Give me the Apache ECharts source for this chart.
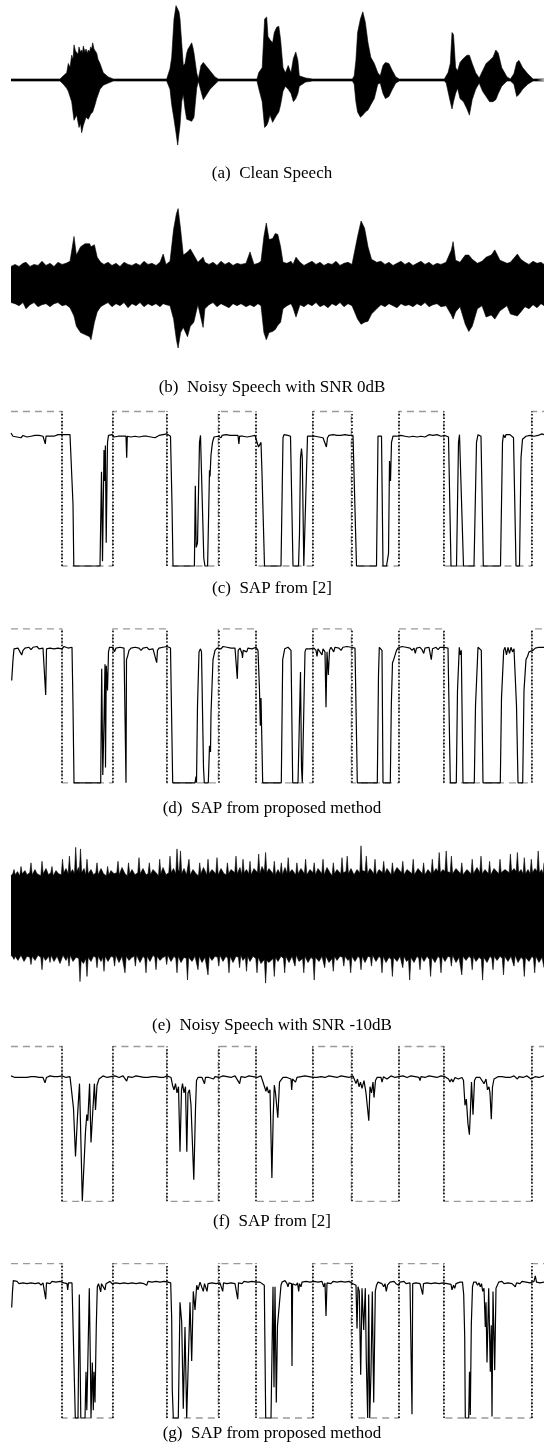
<!DOCTYPE html>
<html><head><meta charset="utf-8">
<script src="https://cdn.jsdelivr.net/npm/echarts@6/dist/echarts.min.js"></script>
<style>html,body{margin:0;padding:0;background:#fff}#c{width:544px;height:1448px}</style>
</head><body><div id="c"></div>
<script>
// ---------- Captions ----------
const captions = [
  "(a)  Clean Speech",
  "(b)  Noisy Speech with SNR 0dB",
  "(c)  SAP from [2]",
  "(d)  SAP from proposed method",
  "(e)  Noisy Speech with SNR -10dB",
  "(f)  SAP from [2]",
  "(g)  SAP from proposed method"
];

// ---------- Waveform envelopes: [time (frame), amplitude] ----------
const cleanTop = [[11,1],[60,1],[63.3,4],[66.7,7],[68.3,16],[70,12],[71.7,24],[73,20],[74,34],[75.5,28],[76.7,29],[78,25],[79,32],[80.5,27],[81.7,29],[82.5,26],[83.3,33],[85,27],[86,30],[87.3,26],[88.3,29],[89.5,27],[90.7,32],[91.7,30],[92.7,36],[94,30],[95,29],[96.7,26],[98,20],[100,16],[103.3,7],[108.3,3],[113.3,1],[161,1],[161.7,2],[162.5,1],[166.7,1],[170,11],[171.7,22],[174,59],[176,72],[177.7,73],[179,66],[180,59],[181.7,36],[183.3,14],[185,16],[186.7,26],[188,30],[189.3,32],[191.7,36],[193,31],[194,26],[196.7,7],[198.3,1],[201,14],[203.3,17],[205,15],[206.7,14],[210,9],[215,3],[218.3,1],[257,1],[258.7,7],[262.2,12],[264.6,59],[266.7,61],[268,42],[270,39],[272.6,36],[274.3,46],[276.7,51],[278.8,52],[280.6,39],[283,12],[285.4,7],[288.2,14],[291,7],[293.4,21],[295.8,27],[297.9,19],[299.3,4],[305.6,2],[312.5,1],[352.4,1],[354.2,4],[355.9,19],[357.6,46],[360.4,59],[362.8,66],[365.3,56],[368,36],[370.8,22],[374.3,16],[377.8,7],[380.2,4],[383,14],[385.4,17],[388.9,16],[392.4,9],[395.8,3],[399.3,1],[444.4,1],[446.2,4],[448,7],[450.3,16],[452,46],[453.5,44],[455.6,12],[457.6,9],[460,17],[463.5,21],[467,24],[469.4,24],[472.2,16],[475.7,7],[479.2,2],[482.6,9],[486.1,16],[489.6,19],[493,22],[495.8,29],[498.3,26],[501.7,12],[507,3],[510.4,1],[513.9,6],[516.7,17],[519,19],[522.6,12],[527.8,6],[533,1],[544,1]];
const cleanBot = [[11,-1],[60,-1],[63.3,-4],[66.7,-8],[68.3,-11],[71.7,-21],[74,-39],[76.7,-34],[79,-46],[80.5,-42],[81.7,-51],[83.3,-44],[86,-36],[88.3,-38],[90.7,-33],[92.7,-31],[95,-24],[96.7,-18],[100,-9],[103.3,-5],[108.3,-3],[113.3,-1],[166.7,-1],[170,-9],[171.7,-24],[174,-38],[176,-51],[177.7,-63],[179,-52],[180,-44],[181.7,-21],[183.3,-14],[185,-28],[186.7,-38],[189.3,-39],[191.7,-40],[194,-36],[196.7,-8],[198.3,-1],[201,-11],[203.3,-19],[206.7,-14],[210,-9],[215,-4],[218.3,-1],[257,-1],[258.7,-8],[262.2,-21],[264.6,-46],[266.7,-44],[268,-41],[270,-34],[272.6,-41],[274.3,-38],[276.7,-34],[278.8,-31],[280.6,-24],[283,-11],[285.4,-6],[288.2,-9],[291,-13],[293.4,-21],[295.8,-18],[297.9,-13],[299.3,-6],[305.6,-2],[312.5,-1],[352.4,-1],[354.2,-4],[355.9,-21],[357.6,-31],[360.4,-36],[362.8,-34],[365.3,-31],[368,-29],[370.8,-24],[374.3,-18],[377.8,-4],[380.2,-3],[383,-13],[385.4,-18],[388.9,-16],[392.4,-9],[395.8,-3],[399.3,-1],[444.4,-1],[446.2,-3],[448,-11],[450.3,-21],[452,-28],[453.5,-21],[455.6,-13],[457.6,-8],[460,-18],[463.5,-21],[467,-28],[469.4,-34],[472.2,-19],[475.7,-9],[479.2,-3],[482.6,-11],[486.1,-16],[489.6,-21],[493,-21],[495.8,-19],[498.3,-13],[501.7,-6],[507,-1],[510.4,-1],[513.9,-4],[516.7,-16],[519,-14],[522.6,-9],[527.8,-4],[533,-1],[544,-1]];

const noisy0Top = [[11,17],[15,19],[19,17],[23,20],[26,21],[30,17],[34,19],[38,18],[42,22],[46,18],[50,20],[54,17],[58,21],[62,19],[66,20],[70,22],[74,46],[76.4,28],[80.6,36],[85,39],[89.6,39],[91,36],[94.4,38],[97.2,26],[100.7,21],[104,19],[108,21],[112,18],[116,20],[120,17],[124,21],[128,19],[132,18],[136,20],[140,18],[144,22],[148,19],[152,20],[156,18],[160,21],[163.2,29],[166,19],[170,22],[173.6,53],[176.4,68],[178.1,73],[180.6,53],[183.3,28],[187.5,31],[190.3,34],[193.8,28],[197.9,21],[203.1,26],[204.9,21],[209,19],[213,21],[217,18],[221,22],[225,19],[229,21],[233,18],[237,20],[241,19],[246,20],[250,31],[254,19],[258,20],[261,22],[263.9,46],[266.3,59],[269.1,43],[272.6,44],[275.3,49],[277.8,48],[280.6,36],[283,21],[287,20],[291,22],[293,19],[296,26],[300,21],[304,18],[308,20],[312,22],[316,19],[320,21],[324,18],[328,20],[332,19],[336,22],[340,18],[344,20],[348,21],[352,19],[357.6,46],[361.1,61],[364.6,54],[368,36],[371.5,24],[376.7,21],[381,22],[385,19],[389,21],[393,18],[397,20],[401,22],[405,19],[409,21],[413,18],[417,20],[421,22],[425,19],[429,21],[433,18],[437,20],[441,19],[446,21],[451.4,33],[453.1,41],[455.6,23],[460,21],[465.3,28],[468.8,28],[472.2,24],[477.4,20],[482,22],[486.1,26],[491.3,28],[494.8,33],[500,23],[507,20],[510.4,21],[517.4,29],[520.8,24],[525,21],[529,19],[533,22],[537,20],[541,21],[544,19]];
const noisy0Bot = [[11,-18],[15,-19],[19,-21],[23,-18],[26,-24],[30,-20],[34,-18],[38,-22],[42,-20],[46,-19],[50,-22],[54,-19],[58,-18],[62,-21],[66,-20],[70,-23],[74,-31],[76.4,-41],[80.6,-47],[85,-49],[89.6,-51],[91,-54],[94.4,-37],[97.2,-27],[100.7,-22],[104,-20],[108,-18],[112,-22],[116,-19],[120,-21],[124,-18],[128,-23],[132,-19],[136,-21],[140,-18],[144,-22],[148,-19],[152,-21],[156,-19],[160,-22],[163.2,-19],[166,-20],[170,-21],[173.6,-34],[176.4,-54],[178.1,-62],[180.6,-47],[183.3,-42],[187.5,-51],[190.3,-41],[193.8,-37],[197.9,-20],[203.1,-42],[204.9,-24],[209,-20],[213,-18],[217,-22],[221,-19],[225,-21],[229,-23],[233,-19],[237,-21],[241,-19],[246,-22],[250,-20],[254,-22],[258,-19],[261,-21],[263.9,-47],[266.3,-54],[269.1,-47],[272.6,-46],[275.3,-44],[277.8,-40],[280.6,-37],[283,-24],[287,-21],[291,-19],[293,-23],[296,-32],[300,-20],[304,-22],[308,-19],[312,-21],[316,-18],[320,-22],[324,-20],[328,-23],[332,-19],[336,-21],[340,-18],[344,-22],[348,-19],[352,-21],[357.6,-34],[361.1,-39],[364.6,-37],[368,-36],[371.5,-29],[376.7,-24],[381,-20],[385,-22],[389,-19],[393,-21],[397,-23],[401,-19],[405,-21],[409,-20],[413,-22],[417,-19],[421,-21],[425,-18],[429,-22],[433,-20],[437,-19],[441,-22],[446,-21],[451.4,-30],[453.1,-34],[455.6,-27],[460,-22],[465.3,-39],[468.8,-46],[472.2,-41],[477.4,-24],[482,-21],[486.1,-32],[491.3,-30],[494.8,-34],[500,-26],[507,-21],[510.4,-29],[517.4,-31],[520.8,-27],[525,-22],[529,-24],[533,-20],[537,-23],[541,-19],[544,-21]];

const noisy10Top = [[11,38],[12.8,40],[14,44],[15.2,39],[17.5,42],[19.8,38],[21,47],[22.2,40],[25,43],[27,39],[29.8,41],[31,50.5],[32.2,39],[35,44],[37,40],[40.8,38],[42,52],[43.2,40],[46,45],[48.5,39],[50.8,41],[52,47],[53.2,38],[56,43],[58.5,40],[61.3,39],[62.5,54],[63.7,41],[66,45],[68.2,40],[69.4,57],[70.6,41],[72.5,44],[74.5,40],[75.7,65.5],[76.9,42],[78.5,46],[79.3,41],[80.5,64],[81.7,41],[84,45],[85.8,39],[87,54],[88.2,40],[91,44],[93.5,39],[95.8,41],[97,50.5],[98.2,39],[101,45],[103.5,40],[106.4,38],[107.6,47],[108.8,39],[111,43],[114,40],[116.8,41],[118,52],[119.2,39],[122,46],[125,40],[127.3,38],[128.5,50.5],[129.7,40],[132,44],[135,39],[137.8,41],[139,55.5],[140.2,40],[143,45],[146,39],[148.1,40],[149.3,50.5],[150.5,39],[153,44],[156,41],[158.5,38],[159.7,54],[160.9,40],[163,46],[166,39],[168.8,41],[170,57],[171.2,41],[173.5,45],[175.8,40],[177,64],[178.2,44],[179.3,42],[180.5,62],[181.7,40],[184,45],[186.5,39],[187.8,40],[189,54],[190.2,39],[193,44],[196,40],[198.5,38],[199.7,50.5],[200.9,40],[203.5,46],[206.8,39],[208,54],[209.2,40],[212,44],[215.8,40],[217,55.5],[218.2,39],[221,45],[224,40],[226.2,39],[227.4,50.5],[228.6,40],[231,44],[234.8,41],[236,57],[237.2,40],[240,46],[241.8,39],[243,54],[244.2,41],[246.5,44],[248.8,40],[250,52],[251.2,39],[254,45],[257.5,41],[258.7,59],[259.9,40],[262,47],[264.4,42],[265.6,60.5],[266.8,41],[269,45],[273.1,40],[274.3,52],[275.5,39],[278,44],[280.1,40],[281.3,50.5],[282.5,39],[285,46],[287,40],[288.2,55.5],[289.4,41],[292,44],[295.7,39],[296.9,50.5],[298.1,40],[301,45],[304.4,40],[305.6,54],[306.8,39],[310,44],[313,41],[314.2,50.5],[315.4,39],[318,45],[321.8,40],[323,54],[324.2,39],[327,46],[330,41],[332.1,38],[333.3,50.5],[334.5,40],[337,44],[340.8,40],[342,55.5],[343.2,41],[346,42],[347.2,57],[348.4,40],[351,45],[354,39],[357,44],[359.8,41],[361,67],[362.2,43],[365.1,42],[366.3,57],[367.5,40],[370,45],[373.8,40],[375,54],[376.2,39],[379,44],[382.5,41],[383.7,52],[384.9,40],[387,45],[391.2,39],[392.4,50.5],[393.6,40],[397,46],[401.6,41],[402.8,52],[404,39],[407,44],[412,40],[413.2,54],[414.4,39],[418,45],[422.4,40],[423.6,50.5],[424.8,39],[428,44],[431.1,40],[432.3,54],[433.5,41],[436,45],[438,42],[439.2,60.5],[440.4,41],[443,44],[445,42],[446.2,62],[447.4,42],[450.2,41],[451.4,57],[452.6,40],[456,45],[460.6,40],[461.8,50.5],[463,39],[467,44],[471,40],[472.2,54],[473.4,40],[477,46],[479.8,41],[481,57],[482.2,40],[485,44],[488.4,40],[489.6,52],[490.8,39],[494,45],[498.8,40],[500,54],[501.2,41],[505,44],[509.2,41],[510.4,59],[511.6,42],[514,45],[516.2,42],[517.4,60.5],[518.6,41],[521,44],[523.1,40],[524.3,55.5],[525.5,40],[528,44],[530.1,40],[531.3,54],[532.5,41],[535,45],[537,42],[538.2,62],[539.4,41],[541.5,44],[543,40],[544,50.5]];
const noisy10Bot = [[11,-39],[12.8,-41],[14,-43],[15.2,-40],[18,-44],[21,-39],[24,-45],[27,-40],[29.8,-41],[31,-48],[32.2,-40],[35,-44],[38,-39],[40.8,-41],[42,-53],[43.2,-40],[45.5,-44],[48.8,-40],[50,-46],[51.2,-39],[54,-45],[57,-40],[60,-47],[63,-39],[66,-44],[67.8,-40],[69,-49.5],[70.2,-39],[73,-45],[76,-41],[78.8,-42],[80,-64.5],[81.2,-44],[83.5,-47],[85.8,-42],[87,-59.5],[88.2,-41],[91,-45],[93.5,-40],[95.8,-41],[97,-51],[98.2,-40],[101,-45],[102.8,-41],[104,-54.5],[105.2,-40],[108,-45],[111,-40],[113.4,-41],[114.6,-49.5],[115.8,-39],[119,-46],[122,-40],[123.8,-41],[125,-56],[126.2,-40],[129,-44],[132,-41],[134.2,-40],[135.4,-49.5],[136.6,-39],[140,-46],[143,-40],[144.8,-42],[146,-56],[147.2,-40],[150,-45],[153,-39],[154.8,-41],[156,-53],[157.2,-40],[160,-44],[163,-41],[165.5,-40],[166.7,-48],[167.9,-39],[171,-45],[174,-40],[175.8,-42],[177,-56],[178.2,-40],[181,-46],[184,-41],[186.3,-42],[187.5,-63],[188.7,-41],[192,-45],[195,-40],[196.8,-41],[198,-53],[199.2,-40],[202,-46],[205,-41],[206.8,-42],[208,-58],[209.2,-40],[212,-44],[215,-40],[217.6,-41],[218.8,-49.5],[220,-39],[223,-45],[226,-40],[227.8,-42],[229,-56],[230.2,-40],[233,-46],[236,-40],[238.4,-41],[239.6,-51],[240.8,-39],[243,-44],[245.3,-41],[246.5,-54.5],[247.7,-40],[250,-45],[253,-40],[255.8,-42],[257,-56],[258.2,-41],[261,-47],[264.4,-43],[265.6,-66],[266.8,-44],[269,-46],[273.1,-42],[274.3,-59.5],[275.5,-41],[278,-45],[281,-40],[283.5,-42],[284.7,-56],[285.9,-40],[289,-46],[292,-40],[293.8,-41],[295,-49.5],[296.2,-39],[299,-45],[302.6,-42],[303.8,-56],[305,-40],[308,-46],[311,-41],[313,-43],[314.2,-63],[315.4,-41],[319,-45],[322,-40],[323.5,-41],[324.7,-51],[325.9,-40],[329,-46],[332.1,-42],[333.3,-54.5],[334.5,-40],[337,-44],[340,-40],[342.6,-41],[343.8,-49.5],[345,-40],[348,-44],[349.5,-42],[350.7,-56],[351.9,-40],[355,-45],[358,-40],[359.8,-42],[361,-53],[362.2,-40],[365,-46],[368,-40],[370.3,-41],[371.5,-49.5],[372.7,-39],[376,-45],[379,-40],[380.8,-42],[382,-56],[383.2,-40],[386,-46],[389,-41],[391.2,-43],[392.4,-59.5],[393.6,-41],[397,-45],[400,-40],[401.6,-41],[402.8,-51],[404,-40],[406.5,-45],[408.5,-43],[409.7,-63],[410.9,-41],[414,-46],[417,-40],[418.8,-42],[420,-53],[421.2,-40],[424,-45],[427,-40],[429.4,-43],[430.6,-59.5],[431.8,-41],[435,-46],[438,-40],[439.8,-42],[441,-56],[442.2,-40],[445,-45],[448,-40],[450.2,-41],[451.4,-49.5],[452.6,-39],[456,-46],[459,-41],[460.6,-42],[461.8,-58],[463,-40],[466,-44],[469,-40],[471,-42],[472.2,-53],[473.4,-40],[476,-45],[479,-41],[481.4,-43],[482.6,-63],[483.8,-41],[487,-46],[490,-40],[491.8,-42],[493,-53],[494.2,-40],[497,-44],[500,-40],[502.3,-42],[503.5,-58],[504.7,-40],[508,-45],[511,-40],[512.8,-41],[514,-49.5],[515.2,-39],[518,-46],[521,-41],[523.1,-43],[524.3,-59.5],[525.5,-41],[529,-45],[532,-40],[533.5,-42],[534.7,-56],[535.9,-40],[539,-46],[542,-41],[544,-51]];

// ---------- Ground-truth speech absence (1 = absent) ----------
const vadSteps = [[11,1],[62,1],[62,0],[112.7,0],[112.7,1],[166.7,1],[166.7,0],[218.3,0],[218.3,1],[256,1],[256,0],[312.7,0],[312.7,1],[351.3,1],[351.3,0],[399,0],[399,1],[443.7,1],[443.7,0],[531.7,0],[531.7,1],[544,1]];
const vadEdges = [62,112.7,166.7,218.3,256,312.7,351.3,399,443.7,531.7];

// ---------- SAP curves: [time (frame), probability] ----------
const sapRef0 = [[11,0.86],[13,0.84],[15,0.845],[17,0.835],[19,0.84],[21,0.83],[23,0.845],[25,0.84],[27,0.835],[29,0.845],[31,0.84],[33,0.85],[35,0.845],[37,0.84],[39,0.845],[41,0.85],[43,0.84],[44.5,0.845],[45.3,0.79],[46,0.84],[48,0.845],[50,0.84],[52,0.85],[54,0.84],[56,0.845],[58,0.85],[60,0.845],[62,0.85],[64,0.84],[66,0.85],[68,0.845],[70,0.85],[71.5,0.845],[73,0.4],[73.8,0],[100,0],[101.5,0.61],[102.5,0.03],[104,0.75],[104.6,0.55],[105.4,0.78],[106.2,0.15],[107.5,0.80],[108.5,0.845],[110,0.84],[112,0.85],[114,0.835],[116,0.845],[118,0.84],[120,0.85],[122,0.84],[124,0.845],[126,0.84],[126.7,0.70],[127.3,0.84],[129,0.85],[131,0.835],[133,0.845],[135,0.84],[137,0.85],[139,0.835],[141,0.845],[143,0.84],[145,0.85],[147,0.84],[149,0.845],[151,0.835],[153,0.84],[155,0.83],[156,0.82],[157,0.84],[159,0.845],[161,0.84],[163,0.85],[165,0.845],[167,0.855],[169,0.85],[170.5,0.84],[172,0.4],[173,0],[194.4,0],[195.3,0.52],[196.2,0.12],[197.5,0.15],[199.5,0.80],[200.5,0.845],[201.5,0.84],[203.8,0.05],[204.9,0],[207.6,0],[209.5,0.62],[210,0.58],[211,0.72],[212.5,0.80],[214,0.835],[216,0.845],[218,0.84],[220,0.85],[221,0.83],[222,0.845],[224,0.84],[226,0.85],[228,0.84],[230,0.845],[232,0.835],[234,0.845],[236,0.84],[238,0.845],[238.9,0.79],[239.6,0.84],[241,0.845],[243,0.84],[245,0.85],[247,0.835],[249,0.845],[251,0.84],[253,0.85],[255,0.845],[257,0.84],[258.5,0.77],[260,0.78],[261,0.80],[262,0.6],[264.5,0],[281,0],[283,0.83],[284,0.85],[286,0.84],[288,0.845],[290.5,0.84],[293,0],[298.5,0],[299.5,0.21],[300.5,0.70],[301.5,0.76],[302.3,0.70],[303.8,0],[305.5,0],[307.5,0.84],[309,0.845],[311,0.84],[313,0.85],[315,0.84],[317,0.845],[319,0.835],[321,0.84],[323,0.83],[325,0.84],[326.4,0.77],[327.5,0.83],[329,0.845],[331,0.84],[333,0.85],[335,0.84],[337,0.845],[339,0.835],[341,0.845],[343,0.84],[345,0.85],[347,0.84],[349,0.845],[351,0.85],[353,0.845],[354.5,0.84],[356.5,0],[376.5,0],[378,0.84],[379.5,0.85],[381.5,0.84],[383,0],[386.5,0],[388.5,0.08],[389.5,0.68],[390.5,0.55],[391.5,0.80],[393,0.84],[395,0.845],[397,0.84],[399,0.85],[401,0.845],[403,0.85],[405,0.84],[407,0.845],[409,0.835],[411,0.845],[413,0.84],[415,0.85],[417,0.835],[419,0.845],[421,0.84],[423,0.845],[425,0.835],[427,0.84],[429,0.85],[431,0.84],[433,0.845],[435,0.84],[437,0.85],[439,0.845],[441,0.84],[443,0.85],[445,0.845],[447,0.84],[448.5,0.835],[451,0],[456.5,0],[458.5,0.80],[459.5,0.85],[460.5,0.84],[463.5,0],[474,0],[476.5,0.80],[478,0.85],[481,0.84],[483.3,0],[500.5,0],[502.5,0.80],[503.5,0.85],[505,0.83],[506,0.85],[508,0.84],[510,0.85],[512,0.84],[513.5,0.83],[516,0],[519.5,0],[521,0.70],[522.5,0.82],[524,0.83],[526,0.84],[528,0.835],[530,0.845],[532,0.85],[534,0.84],[536,0.85],[538,0.845],[540,0.85],[542,0.855],[544,0.85]];

const sapProp0 = [[11.7,0.664],[13,0.80],[14,0.87],[16,0.88],[18,0.875],[20,0.85],[21.7,0.83],[23,0.86],[25,0.875],[27,0.87],[29,0.88],[31,0.865],[33,0.88],[35,0.875],[37,0.885],[39,0.87],[41,0.88],[43,0.875],[44.8,0.88],[45.7,0.57],[46.5,0.87],[48,0.88],[50,0.875],[52,0.885],[54,0.87],[56,0.88],[58,0.875],[60,0.88],[62,0.87],[64,0.885],[66,0.88],[68,0.875],[70,0.885],[72,0.88],[73,0.5],[74,0],[100.7,0],[101.7,0.74],[102.8,0.05],[104,0.40],[105,0.77],[105.5,0.10],[106.3,0.76],[107.5,0.60],[108.5,0.85],[109.5,0.88],[111,0.87],[113,0.88],[114.5,0.85],[116,0.875],[118,0.865],[120,0.88],[122,0.87],[124,0.875],[125.5,0.87],[126,0],[126.5,0.80],[127.5,0.82],[129,0.86],[131,0.875],[133,0.865],[135,0.88],[137,0.87],[139,0.875],[141,0.86],[143,0.875],[145,0.87],[147,0.88],[149,0.865],[151,0.875],[153,0.87],[155,0.86],[156.7,0.78],[157.5,0.86],[159,0.875],[161,0.87],[163,0.88],[165,0.875],[167,0.885],[169,0.88],[170.5,0.875],[172.7,0],[195,0],[196,0.04],[196.5,0],[197.5,0.5],[199,0.85],[200.5,0.87],[201.5,0.85],[203.5,0.1],[204.3,0],[208.3,0],[209.5,0.24],[210.5,0.2],[211,0.45],[213,0.8],[215,0.86],[217,0.875],[219,0.88],[221,0.87],[223,0.885],[225,0.875],[227,0.88],[229,0.87],[231,0.875],[233,0.88],[235,0.875],[236.5,0.87],[237.3,0.675],[238.2,0.86],[240,0.875],[242,0.84],[242.5,0.81],[243.2,0.86],[245,0.87],[246.7,0.85],[248,0.875],[250,0.88],[252,0.87],[254,0.88],[256,0.88],[258,0.86],[259.5,0.60],[260.3,0.37],[261,0.55],[262.7,0],[281.3,0],[282.7,0.80],[284.7,0.87],[286,0.875],[288,0.88],[290,0.87],[291,0.86],[292.7,0],[298,0],[300.5,0.72],[301.5,0.1],[302.3,0],[303,0],[305,0.85],[306,0.87],[308,0.88],[310,0.87],[312,0.88],[314,0.875],[316,0.86],[317,0.82],[318,0.87],[320,0.88],[322,0.83],[323,0.87],[325,0.85],[326,0.49],[327,0.85],[328.3,0.70],[329.5,0.86],[331,0.88],[333,0.87],[333.7,0.85],[335,0.88],[337,0.87],[339,0.875],[341,0.86],[343,0.88],[345,0.87],[347,0.885],[349,0.875],[351,0.88],[353,0.87],[355,0.875],[357.3,0],[377.3,0],[378.5,0.70],[379.3,0.88],[381,0.87],[382,0.86],[383,0],[390.3,0],[391.3,0.50],[392.5,0.78],[393.7,0.80],[395.3,0.80],[396.5,0.86],[398,0.875],[400,0.88],[402,0.885],[404,0.875],[406,0.88],[408,0.87],[410,0.875],[412,0.86],[414,0.875],[415.3,0.84],[416.5,0.875],[418,0.87],[420,0.88],[422,0.865],[423.7,0.84],[425,0.875],[427,0.87],[429,0.88],[431.3,0.80],[432.5,0.87],[434,0.875],[436,0.88],[438,0.865],[440,0.88],[442,0.875],[444,0.88],[446,0.87],[448,0.875],[450.3,0],[456.3,0],[457.5,0.60],[459.3,0.88],[460.3,0.83],[461.3,0.86],[463,0],[474.3,0],[475.5,0.50],[478,0.88],[479.5,0.87],[481.3,0.86],[483,0],[500.3,0],[501.5,0.55],[503.7,0.86],[505,0.88],[506.5,0.83],[508,0.88],[509.5,0.84],[511,0.88],[512.5,0.85],[514,0.87],[515.3,0.86],[516.5,0.5],[518,0],[522.7,0],[524,0.60],[526,0.80],[527.5,0.82],[529,0.85],[531,0.84],[533,0.86],[535.3,0.875],[537,0.87],[539,0.88],[541,0.875],[544,0.88]];

const sapRef10 = [[11,0.81],[13,0.805],[15,0.80],[17,0.805],[19,0.80],[21,0.81],[23,0.80],[25,0.805],[27,0.80],[29,0.81],[31,0.805],[33,0.80],[35,0.805],[37,0.81],[39,0.80],[41,0.805],[43,0.80],[45,0.765],[46.5,0.80],[48,0.805],[50,0.81],[52,0.80],[54,0.805],[56,0.81],[58,0.805],[60,0.80],[62,0.81],[64,0.805],[66,0.80],[68,0.81],[70,0.805],[72,0.80],[73.5,0.6],[75.5,0.29],[77.5,0.55],[79.5,0.76],[80.5,0.5],[82.3,0],[84,0],[85.5,0.45],[86.8,0.56],[87.8,0.52],[89.6,0.76],[91,0.38],[92.5,0.55],[94.4,0.76],[95.5,0.59],[97,0.75],[99,0.79],[101,0.80],[103,0.81],[105,0.805],[107,0.80],[109,0.81],[111,0.805],[113,0.80],[115,0.81],[117,0.805],[119,0.80],[121,0.805],[123,0.81],[125,0.80],[126.7,0.776],[128,0.805],[130,0.81],[132,0.80],[134,0.805],[136,0.81],[138,0.80],[140,0.805],[142,0.81],[144,0.80],[146,0.805],[148,0.80],[150,0.81],[152,0.805],[154,0.80],[156,0.805],[158,0.81],[160,0.80],[162,0.79],[163.5,0.80],[165,0.805],[167,0.81],[169,0.805],[171,0.80],[172.5,0.75],[174,0.72],[175.5,0.76],[177,0.70],[178.5,0.74],[180,0.32],[181.5,0.72],[182.5,0.76],[184,0.70],[185.5,0.74],[186.8,0.32],[188,0.70],[189.5,0.72],[191,0.62],[193.8,0.14],[195.5,0.60],[196.5,0.78],[198,0.80],[200,0.805],[202,0.80],[204.5,0.76],[205.5,0.80],[207,0.81],[209,0.80],[211,0.805],[213.5,0.79],[215,0.805],[217,0.81],[219,0.80],[221,0.805],[223,0.81],[225,0.80],[227,0.805],[229,0.81],[231,0.80],[233,0.805],[235,0.81],[237,0.80],[239.6,0.76],[241,0.805],[243,0.81],[245,0.80],[247,0.805],[249,0.81],[251,0.80],[253,0.805],[255,0.81],[257,0.80],[259,0.805],[261,0.81],[263,0.80],[264.5,0.74],[266,0.71],[267,0.74],[268.5,0.70],[270,0.72],[271.9,0.15],[273.2,0.55],[274.3,0.75],[275.5,0.70],[277.8,0.54],[279.5,0.77],[281,0.78],[283,0.80],[285,0.81],[287,0.80],[289,0.805],[291,0.79],[291.7,0.72],[292.5,0.79],[294,0.80],[295.5,0.77],[297,0.80],[299,0.81],[301,0.805],[303,0.80],[305,0.81],[307,0.80],[309,0.805],[311,0.81],[313,0.80],[315,0.805],[317,0.80],[319,0.79],[321,0.805],[323,0.81],[325,0.80],[327,0.805],[329,0.81],[331,0.80],[333,0.805],[335,0.81],[337,0.80],[339,0.805],[341,0.81],[343,0.80],[345,0.805],[347,0.81],[349,0.80],[351,0.805],[353,0.81],[354,0.80],[356,0.76],[357.5,0.79],[359,0.74],[360.5,0.77],[362,0.73],[364,0.78],[366,0.70],[368.8,0.52],[370,0.74],[371.5,0.70],[373,0.77],[374,0.67],[375.5,0.78],[377,0.80],[379,0.81],[381,0.80],[382,0.77],[383.5,0.805],[385,0.80],[387,0.79],[389,0.80],[391,0.81],[393,0.805],[395,0.80],[397,0.81],[399,0.805],[401,0.80],[403,0.81],[405,0.805],[407,0.80],[409,0.805],[411,0.81],[413,0.80],[415,0.805],[417,0.81],[419,0.80],[420,0.78],[421,0.805],[423,0.81],[425,0.80],[427,0.805],[429,0.81],[431,0.80],[433,0.805],[435,0.81],[437,0.80],[439,0.805],[441,0.81],[443,0.80],[445,0.805],[447,0.81],[448.5,0.79],[450,0.77],[451.5,0.79],[453,0.77],[455,0.80],[457,0.805],[458.3,0.79],[460,0.80],[462,0.80],[463.5,0.78],[465,0.62],[466.3,0.66],[468,0.50],[469.4,0.43],[470.5,0.60],[471.5,0.77],[473,0.56],[474.5,0.78],[476,0.80],[478,0.805],[480,0.80],[482,0.80],[484,0.76],[486,0.79],[487.5,0.72],[489,0.74],[490,0.70],[491.3,0.53],[492.5,0.74],[494,0.79],[496,0.80],[498,0.805],[500,0.80],[502,0.805],[504,0.81],[506,0.80],[508,0.795],[510,0.80],[512,0.805],[514,0.81],[516,0.80],[517.4,0.79],[519,0.805],[521,0.81],[523,0.80],[525,0.805],[527,0.81],[529,0.80],[531,0.79],[533,0.80],[535,0.805],[537,0.81],[539,0.80],[541,0.805],[544,0.81]];

const sapProp10 = [[11.7,0.716],[12.5,0.82],[13.3,0.89],[15,0.88],[17,0.885],[19,0.87],[21,0.88],[23,0.875],[25,0.885],[27,0.87],[29,0.88],[31,0.875],[33,0.885],[35,0.87],[37,0.88],[39,0.875],[41,0.86],[43,0.875],[45,0.88],[45.7,0.77],[46.5,0.875],[48,0.88],[50,0.87],[52,0.885],[54,0.875],[56,0.88],[58,0.87],[60,0.885],[62,0.88],[64,0.875],[65.5,0.88],[67,0.87],[67.7,0.83],[68.5,0.875],[70,0.88],[72,0.875],[74,0.88],[75.3,0],[78,0],[79.3,0.80],[80.8,0],[85,0],[86,0.30],[86.8,0.05],[87.5,0.25],[89.3,0.84],[90.5,0.3],[91,0],[92.3,0.36],[93.3,0.05],[94,0.30],[95,0.1],[96.3,0.6],[97.3,0.85],[98.5,0.87],[100,0.875],[100.7,0.817],[101.5,0.87],[103,0.88],[105,0.83],[106,0.87],[108,0.875],[110,0.885],[112,0.87],[114,0.88],[116,0.875],[118,0.885],[120,0.87],[122,0.88],[124,0.875],[126,0.885],[128,0.87],[130,0.88],[132,0.875],[134,0.885],[136,0.87],[138,0.88],[140,0.875],[142,0.885],[144,0.87],[146,0.88],[146.7,0.86],[148,0.885],[150,0.875],[152,0.88],[154,0.87],[156,0.885],[158,0.875],[160,0.88],[162,0.87],[164,0.885],[166,0.875],[168,0.88],[170.7,0.875],[171.7,0.64],[172.3,0.18],[173.3,0],[178.3,0],[180,0.75],[181.7,0.62],[183.3,0.06],[185,0.59],[186.7,0],[188.3,0],[190,0.75],[191.7,0.37],[193.3,0.82],[195,0.70],[196.7,0.86],[198,0.83],[200,0.88],[202,0.875],[203.3,0.82],[204.5,0.87],[206,0.88],[207,0.82],[208,0.87],[210,0.88],[212,0.875],[214,0.885],[216,0.87],[218,0.88],[220,0.875],[222.7,0.82],[223.5,0.875],[225,0.885],[227,0.87],[229,0.88],[231,0.875],[233,0.885],[235,0.87],[237,0.88],[237.7,0.77],[238.5,0.875],[240,0.88],[242,0.87],[244,0.885],[246,0.875],[248,0.88],[250,0.87],[252,0.885],[254,0.875],[256,0.88],[258,0.87],[260,0.88],[262,0.875],[264.3,0.86],[265.7,0],[271,0],[273,0.85],[274,0.2],[275,0.85],[276.3,0.1],[277.5,0.6],[279.3,0.6],[281,0.86],[282,0.88],[284,0.875],[285,0.89],[287,0.87],[288,0.85],[289,0.875],[290.5,0.88],[291.5,0.87],[292,0.337],[292.6,0.87],[294,0.88],[296,0.86],[297.5,0.875],[298.7,0.82],[299.5,0.87],[301,0.85],[302,0.88],[304,0.87],[306,0.885],[308,0.875],[310,0.88],[312,0.87],[314,0.885],[316,0.875],[318,0.88],[320,0.87],[322,0.885],[323.7,0.85],[325,0.875],[326,0.66],[327,0.875],[329,0.88],[331,0.87],[333,0.885],[335,0.875],[337,0.88],[339,0.87],[341,0.885],[343,0.875],[345,0.88],[347,0.87],[349,0.885],[351,0.875],[353,0.87],[355,0.88],[356,0.86],[357,0.58],[358,0.85],[359.3,0.82],[360.7,0.28],[362,0.84],[363.7,0.57],[365.3,0.84],[366.3,0.37],[367.7,0],[368.7,0.80],[369.7,0],[371,0.3],[372.3,0.82],[373.7,0.10],[375.3,0.82],[376.5,0.86],[378,0.88],[380,0.875],[382,0.87],[383.7,0.85],[385,0.87],[386.3,0.82],[387.5,0.86],[388.7,0.85],[390,0.88],[392,0.875],[394,0.885],[396,0.87],[398.7,0.86],[400,0.88],[402,0.875],[404,0.885],[406,0.87],[408,0.88],[410,0.875],[411.3,0.87],[412,0.025],[412.7,0.87],[414,0.88],[416,0.875],[418,0.885],[420,0.87],[422.7,0.80],[423.5,0.87],[425,0.88],[427,0.875],[429,0.885],[431,0.87],[433,0.88],[435,0.875],[437,0.885],[439,0.87],[441,0.88],[443,0.875],[445,0.885],[447,0.87],[449,0.88],[451,0.865],[452,0.83],[453.5,0.86],[454.7,0.84],[456,0.87],[457,0.88],[460,0.88],[462.5,0.88],[463.7,0.80],[464.7,0.53],[465.3,0],[468.7,0],[469.5,0.30],[470.3,0.02],[471.3,0.60],[472.5,0.85],[473.7,0.88],[476,0.88],[477.5,0.86],[479,0.875],[480.3,0.85],[481.5,0.87],[482.7,0.82],[484,0.84],[485.3,0.59],[486,0.75],[487,0.36],[488.7,0.84],[490.3,0.30],[491.3,0.6],[492,0.01],[493,0.82],[494.7,0.31],[496,0.84],[498.7,0.88],[500,0.875],[502,0.885],[504,0.87],[506,0.88],[508,0.875],[510,0.885],[512,0.87],[514,0.88],[515.3,0.85],[516.5,0.875],[518,0.88],[520,0.87],[522,0.885],[524,0.875],[526,0.88],[528,0.87],[530,0.875],[532,0.88],[534,0.885],[535.3,0.92],[536.5,0.88],[538,0.89],[540,0.875],[542,0.885],[544,0.88]];

// ---------- Layout ----------
const panelKinds  = ['wave','wave','sap','sap','wave','sap','sap'];
const gridTops    = [1.5, 205.5, 411.5, 628.8, 836.5, 1046.5, 1263.6];
const gridHeights = [157, 157, 154.5, 154, 157, 154.8, 154.4];
const captionY    = [174, 388, 589, 809, 1026, 1222, 1434];

const chart = echarts.init(document.getElementById('c'), null, {renderer:'canvas'});

const grids = [], xAxes = [], yAxes = [], series = [];
panelKinds.forEach((k, i) => {
  grids.push({left:0, width:544, top:gridTops[i], height:gridHeights[i], containLabel:false});
  xAxes.push({type:'value', gridIndex:i, min:0, max:544, show:false});
  if (k === 'wave') yAxes.push({type:'value', gridIndex:i, min:-76, max:76, show:false});
  else yAxes.push({type:'value', gridIndex:i, min:0, max:1, show:false});
});

function addWave(i, top, bot) {
  // upper envelope filled slightly past zero, lower envelope filled slightly past zero (overlap avoids a seam)
  series.push({
    type:'line', xAxisIndex:i, yAxisIndex:i, data:top, symbol:'none', silent:true,
    clip:false, lineStyle:{color:'#000', width:0.6},
    areaStyle:{color:'#000', opacity:1, origin:-0.6}
  });
  series.push({
    type:'line', xAxisIndex:i, yAxisIndex:i, data:bot, symbol:'none', silent:true,
    clip:false, lineStyle:{color:'#000', width:0.6},
    areaStyle:{color:'#000', opacity:1, origin:0.6}
  });
}
function addSap(i, sap) {
  series.push({
    type:'line', xAxisIndex:i, yAxisIndex:i, data:vadSteps, symbol:'none', silent:true,
    clip:false, lineStyle:{color:'#9a9a9a', width:1.3, type:[7,5]},
    markLine:{silent:true, symbol:['none','none'], label:{show:false},
      lineStyle:{color:'#000', width:1.6, type:[1.6,1.9]},
      data: vadEdges.map(x => ({xAxis:x}))}
  });
  series.push({
    type:'line', xAxisIndex:i, yAxisIndex:i, data:sap, symbol:'none', silent:true,
    clip:false, lineStyle:{color:'#000', width:1.2}
  });
}
addWave(0, cleanTop, cleanBot);
addWave(1, noisy0Top, noisy0Bot);
addSap(2, sapRef0);
addSap(3, sapProp0);
addWave(4, noisy10Top, noisy10Bot);
addSap(5, sapRef10);
addSap(6, sapProp10);

const graphics = captions.map((t, i) => ({
  type:'text', left:'center', top: captionY[i] - 9,
  style:{text:t, fill:'#000', font:'17px "Liberation Serif", "Times New Roman", serif'}
}));

chart.setOption({
  animation:false,
  backgroundColor:'#fff',
  grid:grids, xAxis:xAxes, yAxis:yAxes, series:series,
  graphic:graphics
});
</script></body></html>
